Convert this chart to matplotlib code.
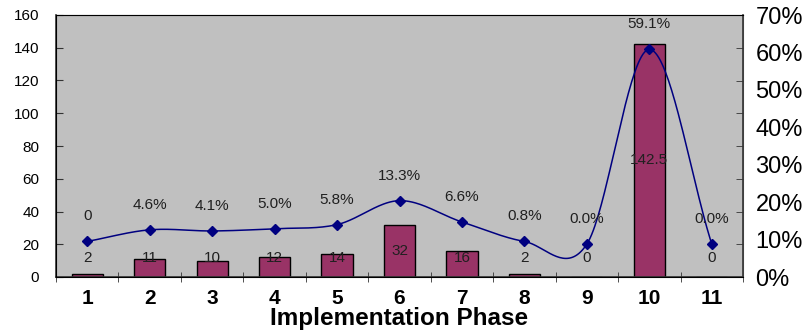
import numpy as np
import matplotlib
matplotlib.use("Agg")
import matplotlib.pyplot as plt
from matplotlib.ticker import FixedLocator

plt.rcParams['font.family'] = ['Liberation Sans', 'DejaVu Sans']

phases = ['1', '2', '3', '4', '5', '6', '7', '8', '9', '10', '11']
counts = [2, 11, 10, 12, 14, 32, 16, 2, 0, 142.5, 0]
line_pct = [9.5, 12.6, 12.3, 12.9, 14.0, 20.4, 14.7, 9.5, 8.8, 60.8, 8.8]
pct_labels = ['0', '4.6%', '4.1%', '5.0%', '5.8%', '13.3%', '6.6%', '0.8%', '0.0%', '59.1%', '0.0%']
left_ticks = [0, 20, 40, 60, 80, 100, 120, 140, 160]
right_ticks = [0, 10, 20, 30, 40, 50, 60, 70]

fig = plt.figure(figsize=(8.02, 3.32), dpi=100)
ax = fig.add_axes([56/802, 1-277/332, (743-56)/802, (277-15)/332])
ax.set_facecolor('#C0C0C0')
x = np.arange(len(phases))

ax.bar(x, counts, width=0.5, color='#993366', edgecolor='black', linewidth=1.0, zorder=2)
for xi, v in zip(x, counts):
    ax.text(xi, max(v/2, 11.5), f'{v:g}', ha='center', va='center', fontsize=11, color='#202020', zorder=5)

ax.set_xlim(-0.5, len(phases)-0.5)
ax.set_ylim(0, 160)
ax.set_yticks(left_ticks)
ax.set_yticklabels([str(t) for t in left_ticks], fontsize=11)
ax.tick_params(axis='y', direction='in', length=5, color='#333333', pad=12)
ax.set_xticks(x)
ax.set_xticklabels(phases, fontsize=15, fontweight='bold')
ax.tick_params(axis='x', length=0, pad=9)
ax.xaxis.set_minor_locator(FixedLocator(np.arange(-0.5, len(phases), 1.0)))
ax.tick_params(axis='x', which='minor', direction='inout', length=7, color='#333333')
ax.set_xlabel('Implementation Phase', fontsize=17.5, fontweight='bold', labelpad=-1)
for s in ['left', 'bottom']:
    ax.spines[s].set_color('#333333')
    ax.spines[s].set_linewidth(1.2)
for s in ['top', 'right']:
    ax.spines[s].set_color('#808080')

ax2 = ax.twinx()
ax2.set_ylim(0, 70)
ax2.set_yticks(right_ticks)
ax2.set_yticklabels([f'{t}%' for t in right_ticks], fontsize=17)
ax2.tick_params(axis='y', which='major', length=0, pad=9)
ax2.yaxis.set_minor_locator(FixedLocator(np.linspace(0, 70, 9)))
ax2.tick_params(axis='y', which='minor', direction='in', length=5, color='#333333')
ax2.spines['right'].set_color('#333333')
ax2.spines['right'].set_linewidth(1.2)

# Catmull-Rom smoothing (Excel-like smoothed line)
px = x.astype(float)
py = np.array(line_pct, dtype=float)
P = np.column_stack([px, py])
P_ext = np.vstack([P[0] - (P[1]-P[0]), P, P[-1] + (P[-1]-P[-2])])
curve = []
t = np.linspace(0, 1, 40)
for i in range(1, len(P_ext)-2):
    p0, p1, p2, p3 = P_ext[i-1], P_ext[i], P_ext[i+1], P_ext[i+2]
    m1 = (p2 - p0) / 2
    m2 = (p3 - p1) / 2
    h00 = 2*t**3 - 3*t**2 + 1
    h10 = t**3 - 2*t**2 + t
    h01 = -2*t**3 + 3*t**2
    h11 = t**3 - t**2
    seg = np.outer(h00, p1) + np.outer(h10, m1) + np.outer(h01, p2) + np.outer(h11, m2)
    curve.append(seg)
curve = np.vstack(curve)
ax2.plot(curve[:, 0], curve[:, 1], color='#000080', linewidth=1.1, zorder=3)
ax2.plot(px, py, linestyle='none', marker='D', markersize=5.5, color='#000080', zorder=4)
for xi, yi, lab in zip(px, py, pct_labels):
    ax2.annotate(lab, (xi, yi), xytext=(0, 18), textcoords='offset points',
                 ha='center', va='center', fontsize=11, color='#202020')

fig.savefig('out.png', dpi=100)
